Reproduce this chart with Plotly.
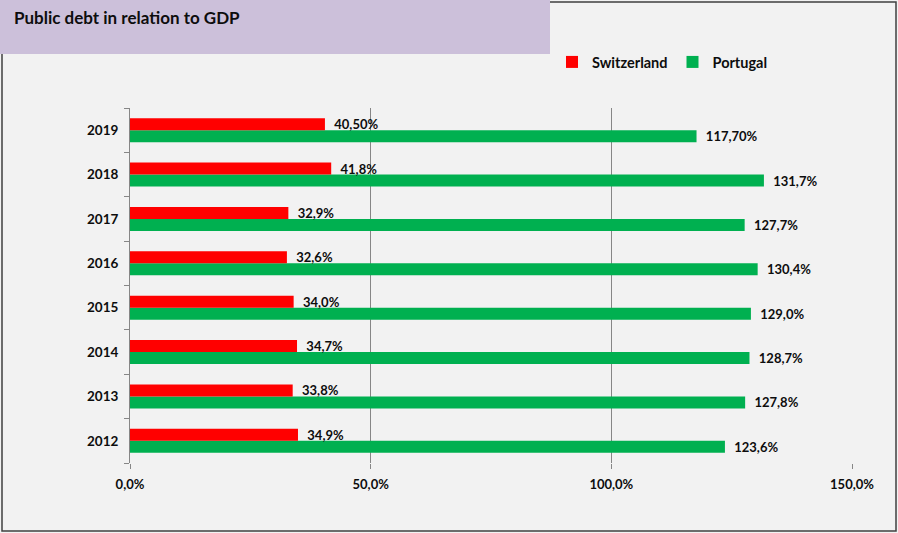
import plotly.graph_objects as go

years = ["2012", "2013", "2014", "2015", "2016", "2017", "2018", "2019"]
switzerland = [34.9, 33.8, 34.7, 34.0, 32.6, 32.9, 41.8, 40.5]
portugal = [123.6, 127.8, 128.7, 129.0, 130.4, 127.7, 131.7, 117.7]
switzerland_labels = ["34,9%", "33,8%", "34,7%", "34,0%", "32,6%", "32,9%", "41,8%", "40,50%"]
portugal_labels = ["123,6%", "127,8%", "128,7%", "129,0%", "130,4%", "127,7%", "131,7%", "117,70%"]
x_ticks = [0, 50, 100, 150]
x_tick_labels = ["0,0%", "50,0%", "100,0%", "150,0%"]

W, H = 898, 533
L, R, T, B = 130, 852, 108, 463
PW, PH = R - L, B - T


def px(x):
    return (x - L) / PW


def py(y):
    return (B - y) / PH


FONT = "Lato"
TXT = "#0d0d0d"
PAD = "\u00a0\u00a0"

fig = go.Figure()
fig.add_trace(go.Bar(
    y=years, x=portugal, orientation="h", name="Portugal",
    marker=dict(color="#00b050", line=dict(width=0)),
    text=portugal_labels, texttemplate=PAD + "%{text}", textposition="outside",
    cliponaxis=False, constraintext="none", hoverinfo="x+y",
    textfont=dict(family=FONT, size=13, color=TXT, weight="bold"),
    legendrank=2,
))
fig.add_trace(go.Bar(
    y=years, x=switzerland, orientation="h", name="Switzerland",
    marker=dict(color="#ff0000", line=dict(width=0)),
    text=switzerland_labels, texttemplate=PAD + "%{text}", textposition="outside",
    cliponaxis=False, constraintext="none", hoverinfo="x+y",
    textfont=dict(family=FONT, size=13, color=TXT, weight="bold"),
    legendrank=1,
))

fig.update_layout(
    width=W, height=H,
    margin=dict(l=L, r=W - R, t=T, b=H - B, pad=0),
    paper_bgcolor="#f2f2f2", plot_bgcolor="#f2f2f2",
    barmode="group", bargap=0.46, bargroupgap=0,
    separators=",.",
    font=dict(family=FONT, size=12, color=TXT),
    showlegend=True,
    legend=dict(orientation="h", x=px(552), y=py(62), xanchor="left", yanchor="middle",
                bgcolor="rgba(0,0,0,0)", font=dict(family=FONT, size=14.5, color=TXT, weight="bold"),
                itemwidth=30, traceorder="normal"),
    xaxis=dict(range=[0, 150], tickvals=x_ticks, ticktext=x_tick_labels,
               showgrid=True, gridcolor="#868686", gridwidth=1, zeroline=False,
               showline=False, ticks="outside", ticklen=5, tickcolor="#868686",
               tickfont=dict(family=FONT, size=13, color=TXT, weight="bold"),
               ticklabelstandoff=4, fixedrange=True),
    yaxis=dict(showgrid=False, showline=True, linecolor="#868686", linewidth=1,
               ticks="outside", tickson="boundaries", ticklen=5, tickcolor="#868686",
               tickfont=dict(family=FONT, size=13.5, color=TXT, weight="bold"),
               ticklabelstandoff=8, fixedrange=True),
)

fig.add_shape(type="rect", xref="paper", yref="paper",
              x0=px(2), x1=px(896), y0=py(531), y1=py(2),
              line=dict(color="#404040", width=1.5), fillcolor="rgba(0,0,0,0)", layer="below")
fig.add_shape(type="rect", xref="paper", yref="paper",
              x0=px(0), x1=px(550), y0=py(54), y1=py(0),
              line=dict(width=0), fillcolor="#ccc0da", layer="below")
fig.add_annotation(xref="paper", yref="paper", x=px(12), y=py(18),
                   xanchor="left", yanchor="middle", showarrow=False,
                   text="Public debt in relation to GDP",
                   font=dict(family=FONT, size=17, color=TXT, weight="bold"))

fig.write_html("out.html", config={"displayModeBar": False},
               post_script="document.body.style.margin='0';document.body.style.overflow='hidden';")
